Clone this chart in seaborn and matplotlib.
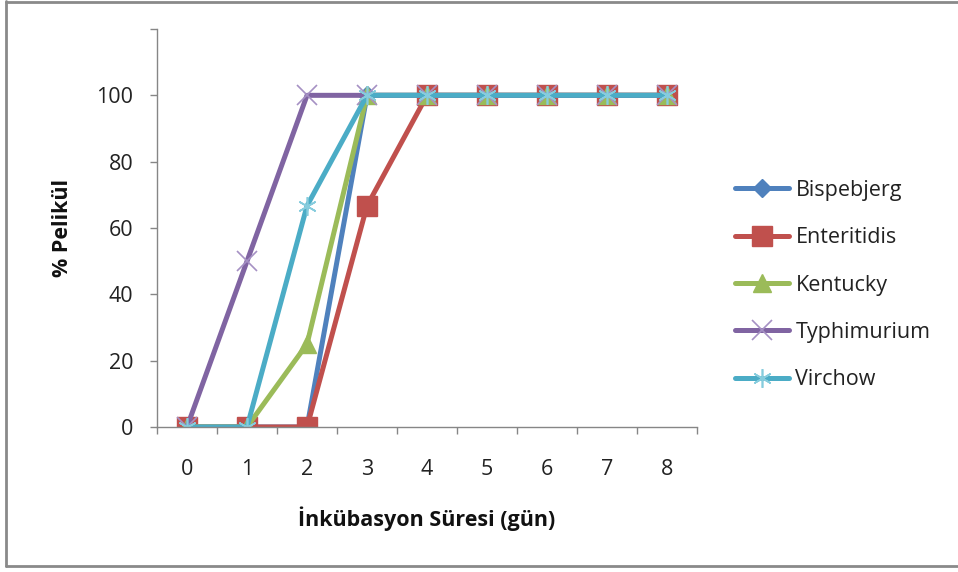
import matplotlib
matplotlib.use("Agg")
import matplotlib.pyplot as plt
from matplotlib.lines import Line2D
import seaborn as sns
import pandas as pd

# Incubation days and the percentage of pellicle formation per serovar
days = [0, 1, 2, 3, 4, 5, 6, 7, 8]
bispebjerg = [0, 0, 0, 100, 100, 100, 100, 100, 100]
enteritidis = [0, 0, 0, 66.7, 100, 100, 100, 100, 100]
kentucky = [0, 0, 25, 100, 100, 100, 100, 100, 100]
typhimurium = [0, 50, 100, 100, 100, 100, 100, 100, 100]
virchow = [0, 0, 66.7, 100, 100, 100, 100, 100, 100]

series_names = ["Bispebjerg", "Enteritidis", "Kentucky", "Typhimurium", "Virchow"]
series_values = [bispebjerg, enteritidis, kentucky, typhimurium, virchow]

y_ticks = [0, 20, 40, 60, 80, 100, 120]
y_tick_labels = ["0", "20", "40", "60", "80", "100", ""]

sns.set_theme(style="white")
plt.rcParams["font.family"] = ["Open Sans", "DejaVu Sans"]

FS = 15.5
FS_LABEL = 15.5

# line colour, marker, marker size, marker face, marker edge, marker edge width
styles = {
    "Bispebjerg": dict(color="#4F81BD", marker="D", markersize=9.5,
                       markerfacecolor="#4F81BD", markeredgecolor="#4F81BD", markeredgewidth=1),
    "Enteritidis": dict(color="#C0504D", marker="s", markersize=14.5,
                        markerfacecolor="#C0504D", markeredgecolor="#C0504D", markeredgewidth=1),
    "Kentucky": dict(color="#9BBB59", marker="^", markersize=13,
                     markerfacecolor="#9BBB59", markeredgecolor="#9BBB59", markeredgewidth=1),
    "Typhimurium": dict(color="#8064A2", marker="x", markersize=14,
                        markerfacecolor="none", markeredgecolor="#A591C4", markeredgewidth=1.2),
    "Virchow": dict(color="#4BACC6", marker=(6, 2, 0), markersize=13.5,
                    markerfacecolor="none", markeredgecolor="#86CCDD", markeredgewidth=1.2),
}

fig = plt.figure(figsize=(9.58, 5.72), dpi=100)
ax = fig.add_axes([0.1639, 0.2535, 0.5637, 0.6958])

for name, vals in zip(series_names, series_values):
    df = pd.DataFrame({"day": range(len(days)), "value": vals})
    sns.lineplot(data=df, x="day", y="value", ax=ax, label=name,
                 linewidth=3.6, solid_joinstyle="round", **styles[name])

# category-style x axis: ticks on the boundaries, labels at the centres
ax.set_xlim(-0.5, len(days) - 0.5)
ax.set_xticks([i - 0.5 for i in range(len(days) + 1)])
ax.set_xticklabels([])
ax.set_xticks(range(len(days)), minor=True)
ax.set_xticklabels([str(d) for d in days], minor=True)
ax.tick_params(axis="x", which="major", direction="out", length=5, width=1, color="#868686", bottom=True)
ax.tick_params(axis="x", which="minor", length=0, pad=23, labelsize=FS, labelcolor="#222222")

ax.set_ylim(0, 120)
ax.set_yticks(y_ticks)
ax.set_yticklabels(y_tick_labels)
ax.tick_params(axis="y", direction="out", length=5, width=1, color="#868686", left=True,
               pad=12, labelsize=FS, labelcolor="#222222")

for side in ["top", "right"]:
    ax.spines[side].set_visible(False)
for side in ["left", "bottom"]:
    ax.spines[side].set_color("#868686")
    ax.spines[side].set_linewidth(1)

ax.set_xlabel("İnkübasyon Süresi (gün)", fontsize=FS_LABEL, fontweight="bold", color="#111111")
ax.set_ylabel("% Pelikül", fontsize=FS_LABEL, fontweight="bold", color="#111111")
ax.xaxis.set_label_coords(0.5, -0.2)
ax.yaxis.set_label_coords(-0.156, 0.5)

leg = ax.legend(loc="center left", bbox_to_anchor=(0.767, 0.5017), bbox_transform=fig.transFigure,
                frameon=False, fontsize=FS, handlelength=2.5, handletextpad=0.32,
                labelspacing=1.23, borderaxespad=0, borderpad=0)
for t in leg.get_texts():
    t.set_color("#222222")

# outer chart border (left, top and bottom edges)
border_color = "#8A8A8A"
fig.add_artist(Line2D([6 / 958, 6 / 958], [1 - 1 / 572, 1 - 566 / 572], transform=fig.transFigure,
                      color=border_color, linewidth=2))
fig.add_artist(Line2D([6 / 958, 1], [1 - 1.5 / 572, 1 - 1.5 / 572], transform=fig.transFigure,
                      color=border_color, linewidth=2))
fig.add_artist(Line2D([6 / 958, 1], [1 - 566 / 572, 1 - 566 / 572], transform=fig.transFigure,
                      color=border_color, linewidth=2))

fig.savefig("out.png", dpi=100)
